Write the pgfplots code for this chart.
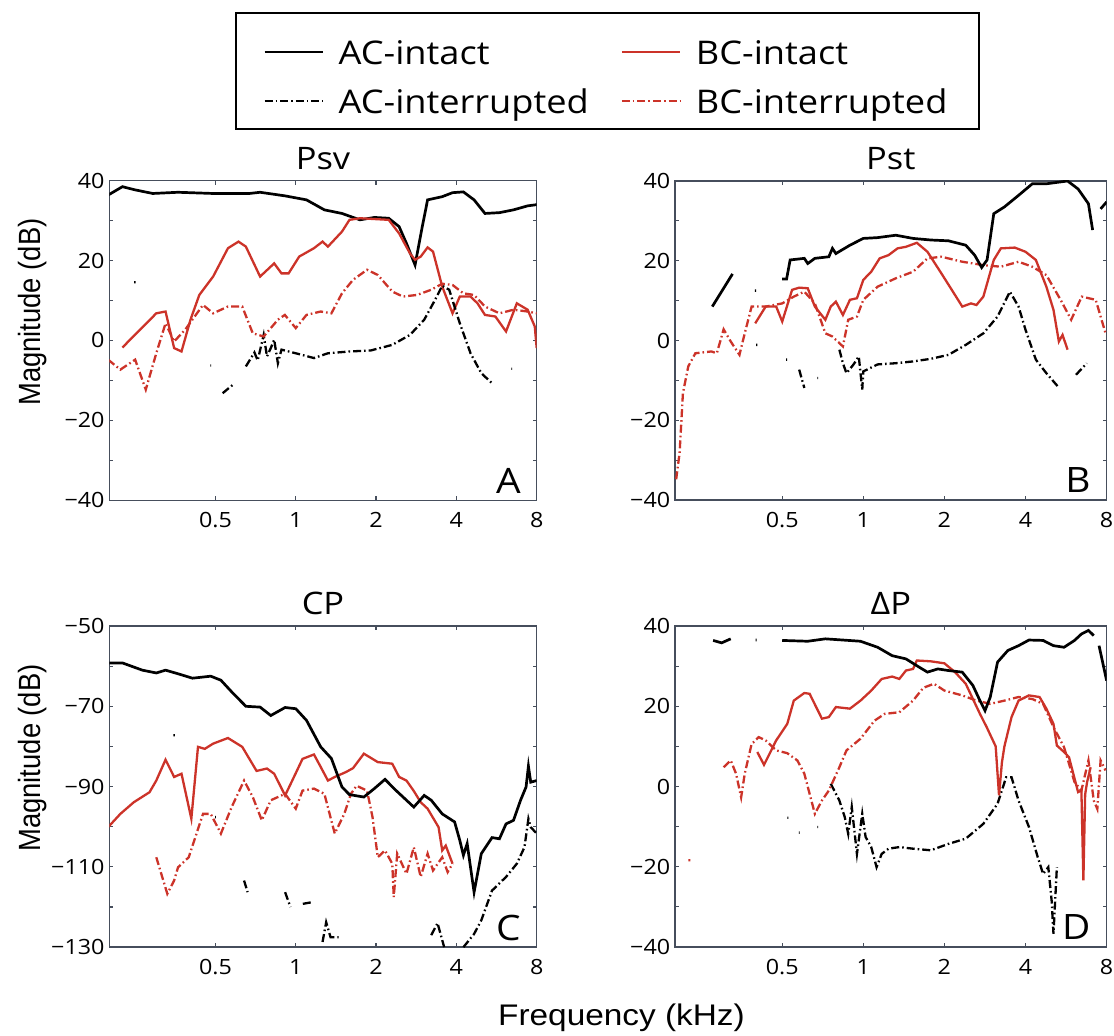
\documentclass[border=0pt]{standalone}
\usepackage{fontspec}
\setmainfont{Open Sans}[FakeStretch=1.11]
\newfontfamily\arialfont{Liberation Sans}
\usepackage{graphicx}
\usepackage{pgfplots}
\pgfplotsset{compat=1.18}
\definecolor{bcred}{RGB}{204,51,41}
\definecolor{axisgray}{RGB}{70,78,92}
\tikzset{
 acint/.style={black, line width=1.35pt, solid},
 bcint/.style={bcred, line width=1.15pt, solid},
 acint2/.style={black, line width=1.15pt, dash pattern=on 4pt off 1.5pt on 0.8pt off 1.5pt},
 bcint2/.style={bcred, line width=1.15pt, dash pattern=on 4pt off 1.5pt on 0.8pt off 1.5pt},
 letter/.style={anchor=base east, xshift=-4.5pt, yshift=3.5pt, font=\fontsize{17.5}{20}\selectfont},
}
\pgfplotsset{
 every axis/.append style={
  scale only axis, xmode=log, log basis x=2,
  xmin=0.2, xmax=8,
  xtick={0.5,1,2,4,8}, xticklabels={0.5,1,2,4,8},
  /pgf/number format/assume math mode=true,
  tick label style={font=\fontsize{10.5}{12}\selectfont},
  xticklabel style={anchor=base, yshift=-13.8pt},
  yticklabel style={anchor=east, inner sep=0pt, xshift=-2.2pt},
  tick align=inside, major tick length=2pt,
  axis line style={axisgray, line width=0.7pt},
  tick style={axisgray, line width=0.6pt},
  unbounded coords=jump,
  title style={at={(0.5,1)}, anchor=base, yshift=-0.5pt, font=\fontsize{15.5}{18}\selectfont},
  ylabel style={at={(rel axis cs:-0.162,0.589)}, anchor=base, font=\arialfont\fontsize{13.7}{16}\selectfont},
 },
}
\begin{document}
\begin{tikzpicture}
\path[use as bounding box] (0,0) rectangle (557pt,-518pt);
% ---------------- A: Psv
\begin{axis}[at={(54.65pt,-90.35pt)}, anchor=north west, width=213.7pt, height=159.8pt,
 ymin=-40, ymax=40, ytick={-40,-30,...,40}, yticklabels={−40,,−20,,0,,20,,40},
 title={Psv}, ylabel={\scalebox{1}[1.12]{Magnitude (dB)}},
 legend columns=2,
 legend style={at={(1.1657,1.5278)}, anchor=north, draw=black, line width=1pt, fill=white,
  font=\fontsize{16.3}{19}\selectfont, inner xsep=14pt, inner ysep=4.5pt, row sep=0pt, column sep=0pt,
  cells={anchor=base west, inner sep=0pt, text height=19pt, text depth=3.5pt},
  /tikz/every odd column/.append style={column sep=5.5pt},
  /tikz/every even column/.append style={column sep=14pt}},
 legend image code/.code={\draw[#1, line width=1pt] (0pt,5.9pt) -- (29pt,5.9pt);},
]
\addplot[acint] coordinates {(0.198,36.4)(0.224,38.5)(0.25,37.7)(0.291,36.8)(0.362,37.1)(0.49,36.8)(0.67,36.8)(0.735,37.1)(0.912,36.2)(1.097,35.2)(1.28,32.7)(1.49,31.8)(1.74,30.2)(1.97,30.8)(2.23,30.6)(2.44,28.5)(2.6,24.3)(2.8,18.9)(2.98,28.5)(3.12,35.2)(3.54,36)(3.87,37)(4.25,37.2)(4.66,35.2)(5.12,31.8)(5.8,32)(6.55,32.7)(7.4,33.7)(8.0,34)};
\addplot[bcint] coordinates {(0.224,-1.75)(0.30,6.8)(0.325,7.25)(0.35,-1.9)(0.373,-2.75)(0.403,5.2)(0.435,11.4)(0.49,16)(0.557,23.1)(0.61,24.75)(0.65,23.5)(0.735,16)(0.83,19.3)(0.884,16.8)(0.94,16.8)(1.03,21)(1.17,23.1)(1.26,24.75)(1.32,23.5)(1.49,27.25)(1.59,30.2)(1.74,30.6)(2.23,30.2)(2.44,26.8)(2.68,21.8)(2.8,20.2)(2.94,21)(3.12,23.3)(3.27,22.25)(3.54,13.5)(3.87,6.8)(4.12,11)(4.52,11)(4.8,9.3)(5.12,6.4)(5.6,6)(6.14,2.25)(6.74,9.3)(7.4,7.7)(7.87,3.5)(8,-1.9)};
\addplot[acint2] coordinates {(0.248,14.6)(0.251,14.6)(0.251,nan)(0.478,-6.25)(0.482,-6.25)(0.482,nan)(0.532,-13.2)(0.583,-11)(0.583,nan)(0.65,-6.5)(0.70,-3)(0.72,-5)(0.758,1.4)(0.78,-4)(0.806,-1.9)(0.83,0.2)(0.857,-5.7)(0.884,-2.3)(1.0,-3.2)(1.17,-4.4)(1.32,-3.2)(1.59,-2.75)(1.91,-2.5)(2.3,-1.1)(2.68,1.4)(3.03,5.2)(3.33,10.2)(3.54,13.7)(3.76,12.7)(4.12,4.3)(4.52,-3.2)(4.96,-8.2)(5.44,-10.7)(5.44,nan)(6.43,-7.1)(6.47,-7.1)};
\addplot[bcint2] coordinates {(0.198,-4.8)(0.22,-7.3)(0.25,-4.8)(0.274,-12.3)(0.30,-3.2)(0.325,4.3)(0.35,-0.25)(0.385,2.7)(0.449,8.9)(0.49,6.8)(0.557,8.5)(0.63,8.5)(0.69,1.8)(0.758,1)(0.857,5.2)(0.91,6.4)(1.0,3.1)(1.097,6.4)(1.24,7.25)(1.36,6.8)(1.49,11.8)(1.64,15.2)(1.85,17.7)(2.03,16.4)(2.3,12.25)(2.52,11)(2.85,11.4)(3.22,12.7)(3.54,14.2)(3.87,13.9)(4.25,11.8)(4.66,11.4)(5.12,8.5)(5.8,6.8)(6.55,7.7)(7.4,7.25)(8,6.8)};
\legend{AC-intact,BC-intact,AC-interrupted,BC-interrupted}
\node[letter] at (rel axis cs:1,0) {A};
\end{axis}
% ---------------- B: Pst
\begin{axis}[at={(337.5pt,-90.5pt)}, anchor=north west, width=215.8pt, height=159.5pt,
 ymin=-40, ymax=40, ytick={-40,-30,...,40}, yticklabels={−40,,−20,,0,,20,,40},
 title={Pst}]
\addplot[bcint2] coordinates {(0.202,-34.8)(0.208,-28.2)(0.214,-13.2)(0.224,-6.5)(0.238,-3.2)(0.273,-2.75)(0.286,-3.2)(0.303,2.8)(0.322,-0.25)(0.347,-3.6)(0.363,1.8)(0.385,8.5)(0.434,8.5)(0.5,9.3)(0.552,11)(0.604,12.25)(0.661,9.3)(0.723,1.8)(0.768,1)(0.84,-1.5)(0.879,5.2)(0.947,6)(1.0,10.2)(1.13,13.5)(1.32,15.6)(1.53,17.25)(1.73,20.6)(1.95,21)(2.33,19.75)(2.79,18.9)(3.24,18.5)(3.77,19.75)(4.24,18.5)(4.78,16.4)(5.4,10.2)(5.91,5.2)(6.47,11)(7.29,10.2)(7.93,1.8)};
\addplot[acint2] coordinates {(0.396,12.5)(0.400,12.5)(0.400,nan)(0.40,-1.1)(0.404,-1.1)(0.404,nan)(0.517,-4.8)(0.521,-4.8)(0.521,nan)(0.578,-7.3)(0.604,-11.9)(0.604,nan)(0.675,-9.4)(0.679,-9.4)(0.679,nan)(0.815,-2.3)(0.84,-5.7)(0.866,-8.2)(0.92,-6)(0.962,-4)(0.991,-12.3)(1.0,-7.75)(1.13,-6)(1.32,-5.7)(1.53,-5.25)(1.78,-4.6)(2.07,-3.6)(2.4,-1.1)(2.79,1.8)(3.15,6)(3.5,12.25)(3.77,8.5)(4.0,2.7)(4.37,-4.8)(4.78,-8.2)(5.27,-11.5)(5.27,nan)(6.16,-8.6)(6.75,-5.7)};
\addplot[bcint] coordinates {(0.397,4.3)(0.434,8.5)(0.475,8.5)(0.5,4.75)(0.544,12.7)(0.578,13.25)(0.622,13.1)(0.661,8.5)(0.723,5.2)(0.757,8.5)(0.791,9.75)(0.84,6.4)(0.892,10.2)(0.947,10.6)(1.0,15.2)(1.07,17.25)(1.15,20.6)(1.24,21.4)(1.34,23.1)(1.44,23.5)(1.58,24.5)(1.73,22.25)(1.95,16.8)(2.13,12.7)(2.33,8.5)(2.51,9.3)(2.63,8.9)(2.79,11)(3.05,20.2)(3.24,23.1)(3.65,23.3)(4.0,22.25)(4.37,20.2)(4.78,13.5)(5.08,7.7)(5.32,-0.25)(5.49,1.4)(5.73,-2.3)};
\addplot[acint] coordinates {(0.275,8.5)(0.327,16.7)(0.327,nan)(0.5,15.4)(0.519,15.4)(0.535,20.2)(0.604,20.6)(0.622,19.3)(0.661,20.6)(0.745,21)(0.768,23.1)(0.791,21.8)(0.892,23.9)(1.0,25.6)(1.13,25.8)(1.32,26.4)(1.53,25.6)(1.78,25.2)(2.07,25)(2.4,23.9)(2.59,21.4)(2.75,18.3)(2.88,20.2)(3.05,31.8)(3.34,33.5)(3.77,36.4)(4.24,39.3)(4.78,39.3)(5.73,40)(6.27,38)(6.85,34.3)(7.1,27.7)(7.1,nan)(7.6,33)(8,34.75)};
\node[letter] at (rel axis cs:1,0) {B};
\end{axis}
% ---------------- C: CP
\begin{axis}[at={(54.65pt,-313pt)}, anchor=north west, width=213.7pt, height=160.6pt,
 ymin=-130, ymax=-50, ytick={-130,-120,...,-50}, yticklabels={−130,,−110,,−90,,−70,,−50},
 title={CP}, ylabel={\scalebox{1}[1.12]{Magnitude (dB)}}]
\addplot[acint2] coordinates {(0.348,-77.2)(0.352,-77.2)(0.352,nan)(0.498,-97.6)(0.502,-97.6)(0.502,nan)(0.64,-113.4)(0.66,-116.3)(0.66,nan)(0.912,-116.3)(0.955,-120)(0.955,nan)(1.063,-119.2)(1.149,-118.8)(1.149,nan)(1.26,-128.7)(1.30,-123.8)(1.35,-127.5)(1.447,-127.5)(1.447,nan)(3.22,-127)(3.4,-124)(3.6,-130)(3.6,nan)(4.25,-130)(4.66,-126.7)(4.96,-123.3)(5.44,-115.9)(6.14,-112.5)(6.74,-109.2)(7.2,-105.1)(7.45,-98)(7.6,-100.1)(8,-101.7)};
\addplot[bcint2] coordinates {(0.30,-107.6)(0.33,-116.7)(0.35,-113.4)(0.362,-110.1)(0.397,-107.6)(0.449,-96.8)(0.48,-96.8)(0.524,-101.7)(0.575,-95.1)(0.64,-88.5)(0.69,-92.6)(0.746,-98.4)(0.806,-93.4)(0.912,-91.8)(1.0,-95.5)(1.06,-91)(1.17,-90.5)(1.28,-91.8)(1.4,-101.7)(1.52,-96.8)(1.61,-91.8)(1.69,-89.8)(1.85,-91)(1.94,-97.6)(2.03,-107.6)(2.16,-105.9)(2.3,-109.2)(2.33,-117.5)(2.4,-106.7)(2.6,-111.7)(2.77,-105.1)(2.94,-112.5)(3.12,-106.7)(3.27,-110.9)(3.54,-107.6)(3.71,-111.3)(3.87,-109.2)};
\addplot[bcint] coordinates {(0.198,-100.1)(0.22,-96.8)(0.247,-93.9)(0.283,-91.4)(0.30,-88.5)(0.325,-83.3)(0.35,-87.6)(0.373,-86.8)(0.406,-98)(0.43,-80.1)(0.456,-80.6)(0.49,-79.3)(0.557,-77.9)(0.63,-80.1)(0.713,-86.1)(0.78,-85.5)(0.83,-86.8)(0.912,-92.2)(0.97,-88.5)(1.06,-83.1)(1.17,-82)(1.24,-85.1)(1.32,-88.5)(1.4,-87.6)(1.54,-86.4)(1.64,-85.4)(1.8,-81.8)(2.03,-83.9)(2.3,-84.3)(2.44,-87.6)(2.6,-88.5)(2.77,-91.1)(2.94,-93.9)(3.12,-95.5)(3.43,-100.1)(3.54,-105.9)(3.65,-104.7)(3.87,-109.2)};
\addplot[acint] coordinates {(0.198,-59.2)(0.224,-59.2)(0.266,-61)(0.30,-61.7)(0.325,-61)(0.362,-61.9)(0.41,-63)(0.48,-62.5)(0.524,-63.5)(0.575,-66.4)(0.65,-70)(0.735,-70.2)(0.806,-72.3)(0.912,-70.3)(1.0,-70.6)(1.097,-73.5)(1.24,-80.1)(1.36,-83)(1.49,-90.1)(1.59,-92)(1.8,-92.6)(1.97,-90.5)(2.16,-88.2)(2.37,-90.9)(2.77,-95.1)(3.03,-92.2)(3.22,-93.4)(3.54,-96.8)(3.94,-98.8)(4.12,-103.4)(4.25,-107.1)(4.39,-104.2)(4.66,-116.3)(4.96,-106.7)(5.44,-102.7)(5.8,-103)(6.14,-99.3)(6.55,-98.4)(6.96,-93.4)(7.3,-90.1)(7.45,-84.9)(7.6,-88.9)(8.0,-88.5)};
\node[letter] at (rel axis cs:1,0) {C};
\end{axis}
% ---------------- D: Delta P
\begin{axis}[at={(337.5pt,-313pt)}, anchor=north west, width=215.8pt, height=160.5pt,
 ymin=-40, ymax=40, ytick={-40,-30,...,40}, yticklabels={−40,,−20,,0,,20,,40},
 title={ΔP}]
\addplot[acint2] coordinates {(0.523,-7.8)(0.527,-7.8)(0.527,nan)(0.576,-11.5)(0.58,-11.5)(0.58,nan)(0.675,-10.1)(0.679,-10.1)(0.679,nan)(0.757,0.7)(0.815,-3.5)(0.853,-7.6)(0.879,-11.8)(0.906,-5.1)(0.947,-16.8)(0.991,-6.8)(1.02,-12.6)(1.07,-15.1)(1.12,-20.1)(1.17,-16.8)(1.24,-15.5)(1.36,-15.1)(1.53,-15.5)(1.78,-15.9)(2.07,-14.3)(2.4,-13)(2.79,-9.3)(3.15,-4.3)(3.39,2.3)(3.55,2.3)(3.77,-3.5)(4.12,-10.1)(4.44,-17.6)(4.65,-21.8)(4.86,-20.1)(5.0,-28.4)(5.08,-36.7)(5.23,-20.1)};
\addplot[bcint2] coordinates {(0.224,-18.4)(0.228,-18.4)(0.228,nan)(0.303,4.8)(0.322,6.5)(0.337,3.2)(0.352,-2.7)(0.363,3.2)(0.385,10.6)(0.409,12.3)(0.434,11.5)(0.475,9)(0.522,8.3)(0.569,6.5)(0.604,3.2)(0.661,-6.8)(0.702,-3.5)(0.745,-1)(0.815,4.8)(0.866,9)(0.976,11.9)(1.1,16.4)(1.2,18.1)(1.36,18.5)(1.53,21.4)(1.67,24.6)(1.83,25.6)(2.0,23.9)(2.33,22.7)(2.63,21.4)(2.96,20.6)(3.34,21.4)(3.77,22.3)(4.24,21.8)(4.65,20.6)(5.08,14.8)(5.56,9.8)(6.08,1.1)(6.45,-1)(6.85,6.5)(7.17,-3.5)(7.39,-5.6)(7.6,6.5)(7.93,4)};
\addplot[bcint] coordinates {(0.404,8.6)(0.428,5.4)(0.475,11.5)(0.522,15.6)(0.552,21.4)(0.604,23.3)(0.632,23.1)(0.702,16.9)(0.745,17.3)(0.791,19.8)(0.892,19.4)(0.976,21.4)(1.07,23.9)(1.17,26.8)(1.28,27.4)(1.36,26.8)(1.44,28.9)(1.53,29.3)(1.58,31.4)(1.78,31.2)(2.0,30.7)(2.19,28.5)(2.4,25.6)(2.71,18.1)(2.87,14.8)(3.1,10)(3.19,-2.2)(3.27,6)(3.34,10)(3.55,17.3)(3.77,21.4)(4.12,22.7)(4.51,22.3)(4.78,19.4)(5.08,15.6)(5.23,10.2)(5.56,8.6)(5.8,7.3)(6.27,-1.4)(6.45,-1)(6.56,-23.4)(6.66,-2)(6.77,1.1)(6.98,4.8)};
\addplot[acint] coordinates {(0.277,36.4)(0.298,35.8)(0.322,36.8)(0.322,nan)(0.398,36.5)(0.402,36.5)(0.402,nan)(0.5,36.4)(0.622,36.2)(0.723,36.8)(0.84,36.5)(0.976,36.2)(1.13,34.7)(1.28,32.6)(1.44,31.8)(1.58,30.1)(1.73,28.5)(1.89,29.3)(2.07,28.9)(2.33,28.5)(2.55,25.2)(2.71,21.4)(2.83,18.9)(2.96,22.3)(3.15,31)(3.44,33.9)(3.77,35.1)(4.12,36.5)(4.65,36.4)(5.08,35.1)(5.56,34.7)(6.08,36.4)(6.45,38)(6.85,38.9)(7.17,37.6)(7.17,nan)(7.5,35.1)(8,26.4)};
\node[letter] at (rel axis cs:1,0) {D};
\end{axis}
\node[font=\arialfont\fontsize{14.9}{17}\selectfont, anchor=base] at (310.75pt,-512.85pt) {\scalebox{1.12}[1]{Frequency (kHz)}};
\end{tikzpicture}
\end{document}
